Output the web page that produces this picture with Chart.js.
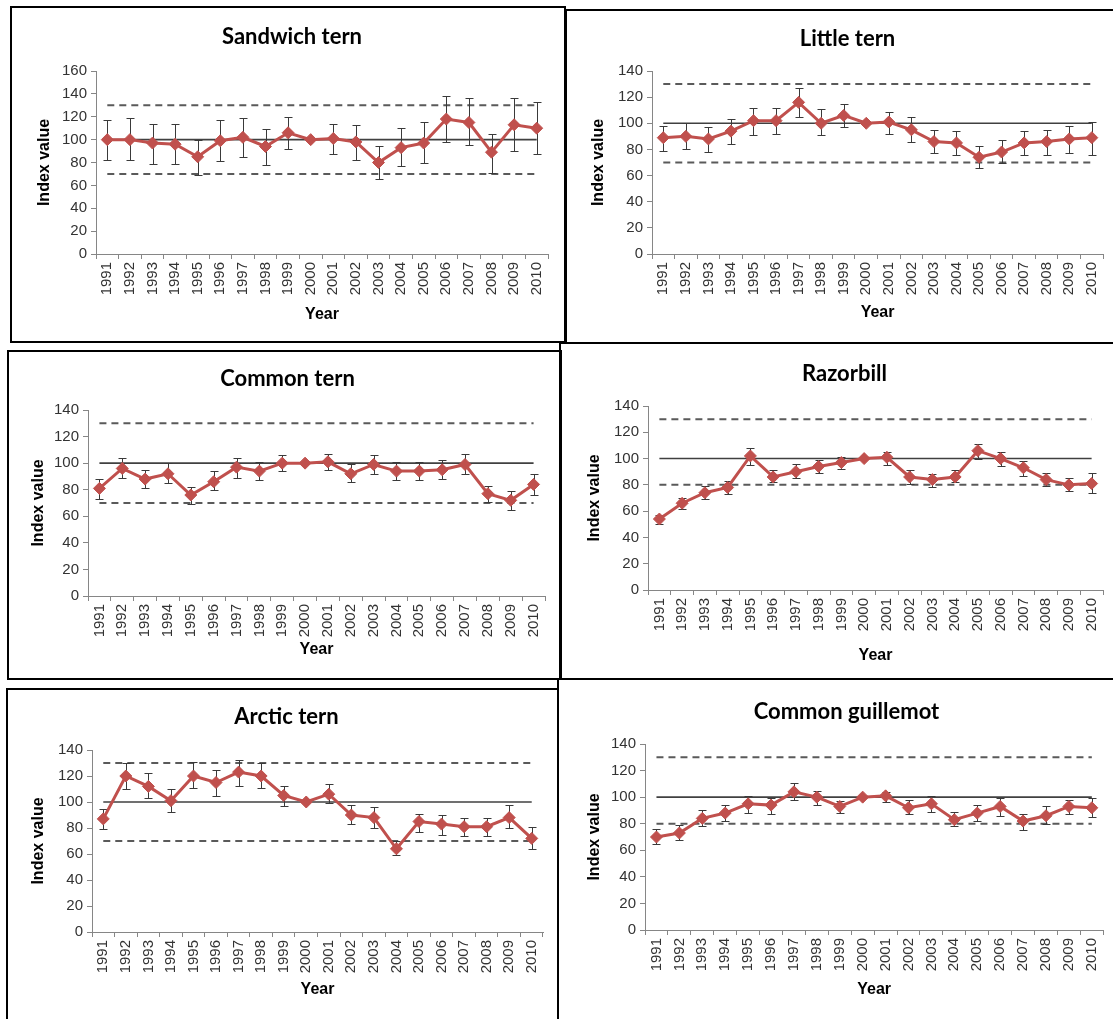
<!DOCTYPE html>
<html>
<head>
<meta charset="utf-8">
<script src="https://cdn.jsdelivr.net/npm/chart.js@4.4.1/dist/chart.umd.min.js"></script>
<style>
  html, body { margin: 0; padding: 0; background: #fff; }
  body { width: 1113px; height: 1019px; position: relative; overflow: hidden; }
  .frame { position: absolute; border: 2px solid #000; box-sizing: border-box; }
  canvas { position: absolute; }
</style>
</head>
<body>
<script>
// Survey years (x categories)
const years = ['1991','1992','1993','1994','1995','1996','1997','1998','1999','2000',
               '2001','2002','2003','2004','2005','2006','2007','2008','2009','2010'];

// Reference levels
const baseline = 100;
const upperLimit = 130;
const ternLowerLimit = 70;
const aukLowerLimit = 80;

// Sandwich tern
const sandwichIndex = [100,100,97,96,85,99,102,94,106,100,101,98,80,93,97,118,115,89,113,110];
const sandwichLow   = [82,82,79,79,69,81,85,78,92,null,87,82,66,77,80,98,95,71,90,87];
const sandwichHigh  = [117,119,114,114,100,117,119,109,120,null,114,113,94,110,115,138,136,105,136,133];

// Little tern
const littleIndex = [89,90,88,94,102,102,116,100,106,100,101,95,86,85,74,78,85,86,88,89];
const littleLow   = [79,80,78,84,91,92,105,91,97,null,92,86,77,76,66,70,76,76,77,76];
const littleHigh  = [98,100,97,103,112,112,127,111,115,null,109,105,95,94,83,87,94,95,98,101];

// Common tern
const commonIndex = [81,96,88,92,76,86,97,94,100,100,101,92,99,94,94,95,99,77,72,84];
const commonLow   = [73,89,81,85,69,80,89,87,94,null,95,86,92,87,87,88,92,71,65,76];
const commonHigh  = [88,104,95,100,82,94,104,101,106,null,107,99,106,101,101,102,107,83,79,92];

// Razorbill
const razorbillIndex = [54,66,74,78,102,86,90,94,97,100,101,86,84,86,106,100,93,84,80,81];
const razorbillLow   = [50,62,69,73,95,82,85,89,92,null,95,81,78,82,100,94,87,79,75,74];
const razorbillHigh  = [57,70,79,83,108,91,96,99,101,null,105,91,88,91,111,105,98,89,85,89];

// Arctic tern
const arcticIndex = [87,120,112,101,120,115,123,120,105,100,106,90,88,64,85,83,81,81,88,72];
const arcticLow   = [79,110,103,92,111,105,112,111,97,null,99,83,80,59,77,75,74,74,80,64];
const arcticHigh  = [95,130,122,110,131,125,132,130,112,null,114,98,96,70,91,90,88,88,98,81];

// Common guillemot
const guillemotIndex = [70,73,84,88,95,94,104,100,93,100,101,92,95,83,88,93,82,86,93,92];
const guillemotLow   = [65,68,78,82,88,87,98,94,88,null,96,87,89,78,82,86,75,80,87,85];
const guillemotHigh  = [76,79,90,94,101,99,111,105,97,null,104,98,101,89,94,99,87,93,98,99];

// Panel frames (left, top, width, height)
const frames = [
  [10, 6, 556, 337], [565, 9, 600, 335],
  [7, 350, 555, 330], [559, 342, 600, 338],
  [6, 688, 553, 400], [557, 678, 600, 400]
];

// Panels: data plus placement on the page
const panels = [
  { title: 'Sandwich tern', index: sandwichIndex, low: sandwichLow, high: sandwichHigh, yMax: 160, lower: ternLowerLimit,
    box: [12, 8, 552, 333], plot: [96, 71, 548, 254], titleY: 37, yTitleX: 45, xTitleY: 315 },
  { title: 'Little tern', index: littleIndex, low: littleLow, high: littleHigh, yMax: 140, lower: ternLowerLimit,
    box: [567, 11, 546, 331], plot: [652, 71, 1105, 254], titleY: 39, yTitleX: 599, xTitleY: 313 },
  { title: 'Common tern', index: commonIndex, low: commonLow, high: commonHigh, yMax: 140, lower: ternLowerLimit,
    box: [9, 352, 551, 326], plot: [88, 410, 545, 596], titleY: 379, yTitleX: 39, xTitleY: 650 },
  { title: 'Razorbill', index: razorbillIndex, low: razorbillLow, high: razorbillHigh, yMax: 140, lower: aukLowerLimit,
    box: [561, 344, 552, 334], plot: [648, 406, 1103, 590], titleY: 374, yTitleX: 595, xTitleY: 656 },
  { title: 'Arctic tern', index: arcticIndex, low: arcticLow, high: arcticHigh, yMax: 140, lower: ternLowerLimit,
    box: [8, 690, 549, 329], plot: [92, 750, 543, 932], titleY: 717, yTitleX: 39, xTitleY: 990 },
  { title: 'Common guillemot', index: guillemotIndex, low: guillemotLow, high: guillemotHigh, yMax: 140, lower: aukLowerLimit,
    box: [559, 680, 554, 339], plot: [645, 744, 1107, 930], titleY: 712, yTitleX: 595, xTitleY: 990 }
];

const SERIES_RED = '#C0504D';
const AXIS_GREY = '#868686';
const TICK_FONT = { family: "'Liberation Sans', Arial, sans-serif", size: 15 };
const AXIS_TITLE_FONT = { family: "'Liberation Sans', Arial, sans-serif", size: 16, weight: 'bold', lineHeight: 18 / 16 };
const TITLE_SIZE = 22, TITLE_LH = 24;

// Vertical error bars with caps, drawn just beneath the index series
function errorBarPlugin(low, high) {
  return {
    id: 'errorBars',
    beforeDatasetDraw(chart, args) {
      if (args.index !== 0) return;
      const { ctx, scales: { x, y } } = chart;
      ctx.save();
      ctx.strokeStyle = '#3a3a3a';
      ctx.lineWidth = 1;
      ctx.beginPath();
      low.forEach((lo, i) => {
        const hi = high[i];
        if (lo == null || hi == null) return;
        const px = Math.round(x.getPixelForValue(i)) + 0.5;
        const y1 = Math.round(y.getPixelForValue(lo)) + 0.5;
        const y2 = Math.round(y.getPixelForValue(hi)) + 0.5;
        ctx.moveTo(px, y1); ctx.lineTo(px, y2);
        ctx.moveTo(px - 4, y1); ctx.lineTo(px + 4, y1);
        ctx.moveTo(px - 4, y2); ctx.lineTo(px + 4, y2);
      });
      ctx.stroke();
      ctx.restore();
    }
  };
}

function buildPanel(p) {
  const [bx, by, bw, bh] = p.box;
  const [pl, pt, pr, pb] = p.plot;
  const cv = document.createElement('canvas');
  cv.width = bw; cv.height = bh;
  cv.style.left = bx + 'px'; cv.style.top = by + 'px';
  cv.style.width = bw + 'px'; cv.style.height = bh + 'px';
  document.body.appendChild(cv);

  const axisLH = 18;
  const yScaleLeft = p.yTitleX - bx - axisLH / 2;
  const yScaleWidth = (pl - bx) - yScaleLeft;
  const xScaleBottom = p.xTitleY - by + axisLH / 2;
  const xScaleHeight = xScaleBottom - (pb - by);
  const titlePadTop = p.titleY - by - TITLE_LH / 2;
  const titlePadBottom = (pt - by) - titlePadTop - TITLE_LH;

  const flat = v => years.map(() => v);

  new Chart(cv, {
    type: 'line',
    data: {
      labels: years,
      datasets: [
        { data: p.index, borderColor: SERIES_RED, backgroundColor: SERIES_RED, borderWidth: 3,
          pointStyle: 'rectRot', pointRadius: 6, pointBorderWidth: 1, pointBorderColor: SERIES_RED,
          pointBackgroundColor: SERIES_RED, tension: 0 },
        { data: flat(baseline), borderColor: '#404040', borderWidth: 1.6, pointRadius: 0 },
        { data: flat(upperLimit), borderColor: '#5a5a5a', borderWidth: 2, borderDash: [7, 5], pointRadius: 0 },
        { data: flat(p.lower), borderColor: '#5a5a5a', borderWidth: 2, borderDash: [7, 5], pointRadius: 0 }
      ]
    },
    options: {
      responsive: false,
      animation: false,
      events: [],
      layout: { padding: { left: yScaleLeft, right: bx + bw - pr, top: 0, bottom: bh - xScaleBottom } },
      plugins: {
        legend: { display: false },
        tooltip: { enabled: false },
        title: {
          display: true, text: p.title, color: '#000',
          font: { family: "Lato, 'Open Sans', sans-serif", weight: 'bold', size: TITLE_SIZE, lineHeight: TITLE_LH / TITLE_SIZE },
          padding: { top: titlePadTop, bottom: titlePadBottom }
        }
      },
      scales: {
        x: {
          offset: true,
          grid: { display: true, drawOnChartArea: false, offset: true, tickLength: 5, color: AXIS_GREY },
          border: { color: AXIS_GREY, width: 1 },
          ticks: { minRotation: 90, maxRotation: 90, autoSkip: false, font: TICK_FONT, color: '#333', padding: 3 },
          title: { display: true, text: 'Year', color: '#000', font: AXIS_TITLE_FONT, padding: 0 },
          afterFit(s) { s.height = xScaleHeight; }
        },
        y: {
          min: 0, max: p.yMax,
          grid: { display: true, drawOnChartArea: false, tickLength: 5, color: AXIS_GREY },
          border: { color: AXIS_GREY, width: 1 },
          ticks: { stepSize: 20, font: TICK_FONT, color: '#333', padding: 4 },
          title: { display: true, text: 'Index value', color: '#000', font: AXIS_TITLE_FONT, padding: 0 },
          afterFit(s) { s.width = yScaleWidth; }
        }
      }
    },
    plugins: [errorBarPlugin(p.low, p.high)]
  });
}

panels.forEach(buildPanel);

frames.forEach(([l, t, w, h]) => {
  const d = document.createElement('div');
  d.className = 'frame';
  d.style.left = l + 'px'; d.style.top = t + 'px';
  d.style.width = w + 'px'; d.style.height = h + 'px';
  document.body.appendChild(d);
});
</script>
</body>
</html>
